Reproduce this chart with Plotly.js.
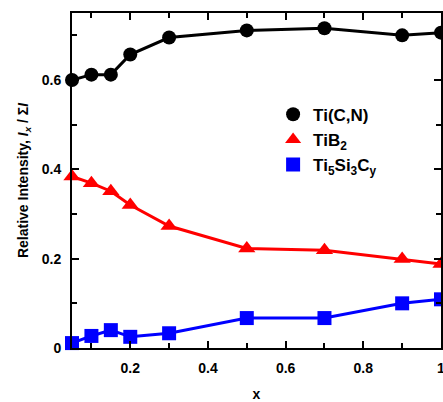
<!DOCTYPE html>
<html><head><meta charset="utf-8">
<script src="https://cdn.plot.ly/plotly-3.0.1.min.js"></script>
<style>html,body{margin:0;padding:0;background:#fff}#c{width:443px;height:402px}</style>
</head><body><div id="c"></div>
<script>
const xVals = [0.05, 0.1, 0.15, 0.2, 0.3, 0.5, 0.7, 0.9, 1.0];
const tiCN = [0.600, 0.612, 0.612, 0.657, 0.695, 0.711, 0.716, 0.700, 0.706];
const tiB2 = [0.384, 0.369, 0.351, 0.320, 0.273, 0.223, 0.219, 0.199, 0.188];
const tiSiC = [0.011, 0.027, 0.040, 0.025, 0.033, 0.067, 0.067, 0.100, 0.109];
const names = ['Ti(C,N)', 'TiB<sub>2</sub>', 'Ti<sub>5</sub>Si<sub>3</sub>C<sub>y</sub>'];
const colors = ['#000000', '#ff0000', '#0000ff'];
const symbols = ['circle', 'triangle-up', 'square'];
const series = [tiCN, tiB2, tiSiC];

const traces = [];
series.forEach((ys, i) => {
  traces.push({x: xVals, y: ys, mode: 'lines+markers', showlegend: false, cliponaxis: false,
    line: {color: colors[i], width: 3},
    marker: {color: colors[i], symbol: symbols[i], size: i === 1 ? 15 : 14}});
});
series.forEach((ys, i) => {
  traces.push({x: [null], y: [null], mode: 'markers', name: names[i],
    marker: {color: colors[i], symbol: symbols[i], size: 14}});
});

const F = 'Liberation Sans, Arial, sans-serif';
const axisCommon = {showline: true, linecolor: '#000', linewidth: 2, mirror: 'ticks',
  ticks: 'inside', ticklen: 7, tickwidth: 2, tickcolor: '#000', showgrid: false, zeroline: false,
  ticklabeloverflow: 'allow',
  tickfont: {family: F, size: 14, color: '#000', weight: 'bold'}};

Plotly.newPlot('c', traces, {
  width: 443, height: 402,
  margin: {l: 72, r: 2, t: 13, b: 54},
  paper_bgcolor: '#fff', plot_bgcolor: '#fff',
  font: {family: F, color: '#000'},
  xaxis: Object.assign({}, axisCommon, {range: [0.05, 1.0], tickvals: [0.2, 0.4, 0.6, 0.8, 1.0],
    ticktext: ['0.2', '0.4', '0.6', '0.8', '1'], ticklabelstandoff: 6,
    minor: {tickvals: [0.1, 0.3, 0.5, 0.7, 0.9], ticks: 'inside', ticklen: 5, tickwidth: 2, tickcolor: '#000'},
    title: {text: 'x', font: {family: F, size: 14, weight: 'bold'}, standoff: 15}}),
  yaxis: Object.assign({}, axisCommon, {range: [0, 0.75], tickvals: [0, 0.2, 0.4, 0.6],
    ticktext: ['0', '0.2', '0.4', '0.6'], ticklabelstandoff: 6,
    minor: {tickvals: [0.1, 0.3, 0.5, 0.7], ticks: 'inside', ticklen: 5, tickwidth: 2, tickcolor: '#000'},
    title: {text: 'Relative Intensity, <i>I<sub>x</sub></i> / Σ<i>I</i>', font: {family: F, size: 14, weight: 'bold'}, standoff: 10}}),
  legend: {x: 0.545, y: 0.75, xanchor: 'left', yanchor: 'top', bgcolor: 'rgba(0,0,0,0)',
    font: {family: F, size: 17, weight: 'bold', color: '#000'}, itemwidth: 30, tracegroupgap: 0}
}, {displayModeBar: false, staticPlot: true});
</script></body></html>
